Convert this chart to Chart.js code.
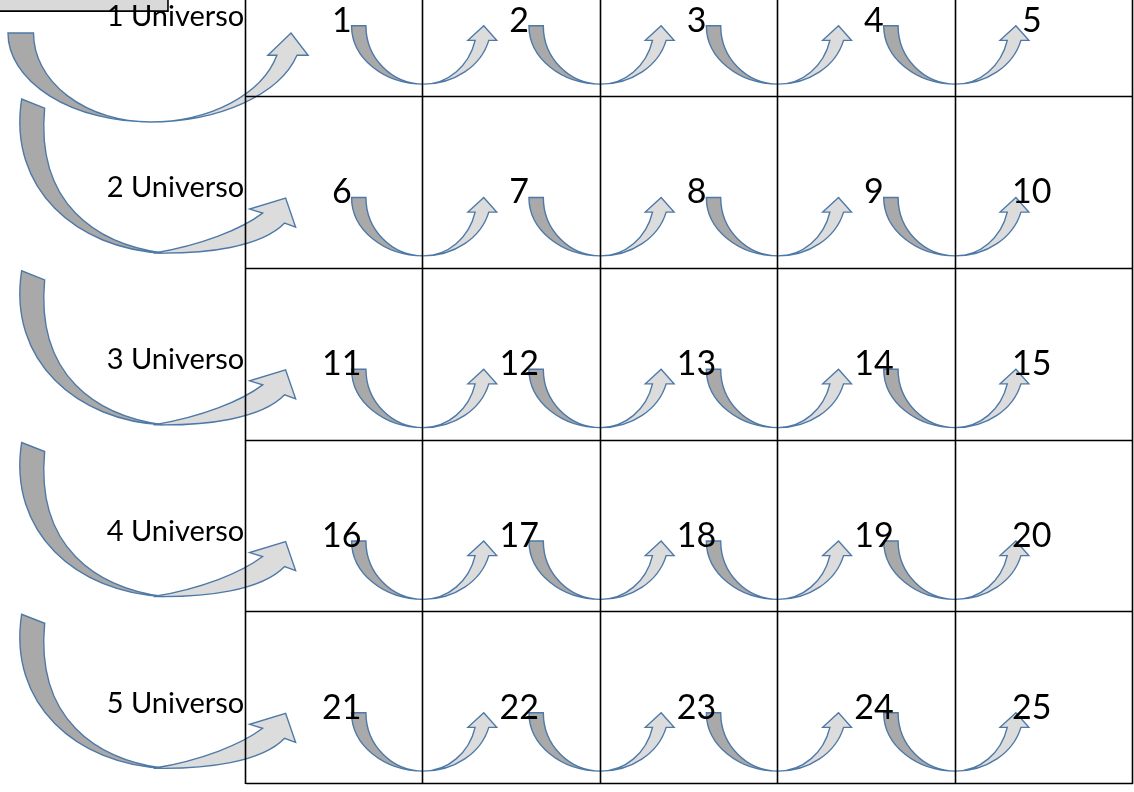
<!DOCTYPE html>
<html>
<head>
<meta charset="utf-8">
<script src="https://cdn.jsdelivr.net/npm/chart.js@4.4.1/dist/chart.umd.min.js"></script>
<style>
html,body{margin:0;padding:0;background:#ffffff;}
#wrap{width:1134px;height:792px;position:relative;}
</style>
</head>
<body>
<div id="wrap"><canvas id="c"></canvas></div>
<script>
// ---- data ----
const universeLabels = ['1 Universo', '2 Universo', '3 Universo', '4 Universo', '5 Universo'];
const cellNumbers = [1, 2, 3, 4, 5, 6, 7, 8, 9, 10, 11, 12, 13, 14, 15, 16, 17, 18, 19, 20, 21, 22, 23, 24, 25];
const universeEntries = [1, 6, 11, 16, 21];
const stepLinks = [
  [1, 2], [2, 3], [3, 4], [4, 5],
  [6, 7], [7, 8], [8, 9], [9, 10],
  [11, 12], [12, 13], [13, 14], [14, 15],
  [16, 17], [17, 18], [18, 19], [19, 20],
  [21, 22], [22, 23], [23, 24], [24, 25]
];
const columnCount = 5;
const rowCount = 5;

// ---- helpers ----
function cellOf(n) {
  const i = cellNumbers.indexOf(n);
  return { col: i % columnCount, row: Math.floor(i / columnCount) };
}

const COLORS = { dark: '#a9a9a9', light: '#dcdcdc', edge: '#4e79a7', grid: '#000000' };

const SMALL = { bw: 0.10, xm: 0.50, cornerL: 0.31, cornerR: 0.51, tip: 0.42, shaftIn: 0.36, shaftOut: 0.455, base: 0.25 };
const BIG = { bw: 0.085, xm: 0.473, cornerL: 0.393, cornerR: 0.527, tip: 0.47, shaftIn: 0.423, shaftOut: 0.49, base: 0.25 };

function styleShape(ctx, fill) {
  ctx.fillStyle = fill;
  ctx.fill();
  ctx.stroke();
}

function curvedArrow(ctx, ax, ay, W, H, p) {
  ctx.save();
  ctx.translate(ax, ay);
  ctx.lineWidth = 1.4;
  ctx.strokeStyle = COLORS.edge;
  ctx.lineJoin = 'miter';
  const xm = p.xm * W;
  const bw = p.bw * W;
  ctx.beginPath();
  ctx.moveTo(0, 0);
  ctx.ellipse(xm, 0, xm, H, 0, Math.PI, Math.PI / 2, true);
  ctx.ellipse(xm, 0, xm - bw, H, 0, Math.PI / 2, Math.PI, false);
  ctx.closePath();
  styleShape(ctx, COLORS.dark);
  const by = p.base * H;
  const th = Math.asin(p.base);
  const rOut = (p.shaftOut * W) / Math.cos(th);
  const rIn = (p.shaftIn * W) / Math.cos(th);
  ctx.beginPath();
  ctx.moveTo(xm, H);
  ctx.ellipse(xm, 0, rOut, H, 0, Math.PI / 2, th, true);
  ctx.lineTo(xm + p.cornerR * W, by);
  ctx.lineTo(xm + p.tip * W, 0);
  ctx.lineTo(xm + p.cornerL * W, by);
  ctx.lineTo(xm + rIn * Math.cos(th), by);
  ctx.ellipse(xm, 0, rIn, H, 0, th, Math.PI / 2, false);
  ctx.closePath();
  styleShape(ctx, COLORS.light);
  ctx.restore();
}

// tilted swoop arrow (template in local units, scaled by s)
function swoopArrow(ctx, ax, ay, s) {
  ctx.save();
  ctx.translate(ax, ay);
  ctx.scale(s, s);
  ctx.lineWidth = 1.4 / s;
  ctx.strokeStyle = COLORS.edge;
  ctx.lineJoin = 'miter';
  // back band
  ctx.beginPath();
  ctx.moveTo(0, 0);
  ctx.bezierCurveTo(-14, 90, 55, 150, 142, 154);
  ctx.bezierCurveTo(75, 145, 14, 105, 23, 9);
  ctx.closePath();
  styleShape(ctx, COLORS.dark);
  // front band with head
  ctx.beginPath();
  ctx.moveTo(132, 154);
  ctx.bezierCurveTo(185, 155, 240, 148, 263, 124);
  ctx.lineTo(274, 128);
  ctx.lineTo(264, 99);
  ctx.lineTo(228, 110);
  ctx.lineTo(241, 114);
  ctx.bezierCurveTo(220, 130, 180, 146, 132, 154);
  ctx.closePath();
  styleShape(ctx, COLORS.light);
  ctx.restore();
}

const diagramPlugin = {
  id: 'diagram',
  afterDatasetsDraw(chart) {
    const ctx = chart.ctx;
    const xs = chart.scales.x, ys = chart.scales.y;
    const X = v => xs.getPixelForValue(v);
    const Y = v => ys.getPixelForValue(v);
    const unit = X(1) - X(0);

    // big entry arrows (label -> first number of each row)
    universeEntries.forEach(n => {
      const { row } = cellOf(n);
      if (row === 0) {
        curvedArrow(ctx, X(-1.342), Y(row + 0.627), X(0.35) - X(-1.342), Y(row + 1.145) - Y(row + 0.627), BIG);
      } else {
        swoopArrow(ctx, X(-1.265), Y(row + 0.012), unit / 177.4);
      }
    });

    // small step arrows between consecutive numbers
    stepLinks.forEach(([a, b]) => {
      const ca = cellOf(a);
      const boundary = ca.col + 1;
      const x0 = X(boundary - 0.405), x1 = X(boundary + 0.405);
      const y0 = Y(ca.row + 0.585), y1 = Y(ca.row + 0.925);
      curvedArrow(ctx, x0, y0, x1 - x0, y1 - y0, SMALL);
    });

    // grid of cells
    ctx.save();
    ctx.strokeStyle = COLORS.grid;
    ctx.lineWidth = 1.6;
    ctx.beginPath();
    for (let c = 0; c <= columnCount; c++) {
      const px = Math.round(X(c)) - 0.5;
      ctx.moveTo(px, chart.chartArea.top);
      ctx.lineTo(px, Y(rowCount));
    }
    for (let r = 1; r <= rowCount; r++) {
      const py = Math.round(Y(r)) - 0.5;
      ctx.moveTo(X(0), py);
      ctx.lineTo(X(columnCount), py);
    }
    ctx.stroke();
    // grey box top-left
    ctx.fillStyle = '#d9d9d9';
    ctx.beginPath();
    ctx.rect(X(-1.45), Y(0.38), X(-0.44) - X(-1.45), Y(0.5) - Y(0.38));
    ctx.fill();
    ctx.stroke();
    ctx.restore();

    // universe labels
    ctx.save();
    ctx.fillStyle = '#000000';
    ctx.font = '29px Lato';
    ctx.textAlign = 'right';
    ctx.textBaseline = 'middle';
    universeLabels.forEach((lab, r) => {
      ctx.fillText(lab, X(-0.01), Y(r + 0.53));
    });
    // cell numbers
    ctx.font = '34px Lato';
    ctx.textAlign = 'center';
    cellNumbers.forEach(n => {
      const { col, row } = cellOf(n);
      const dx = col === columnCount - 1 ? 0.43 : 0.54;
      ctx.fillText(String(n), X(col + dx), Y(row + 0.555));
    });
    ctx.restore();
  }
};

new Chart(document.getElementById('c'), {
  type: 'scatter',
  data: {
    datasets: [{
      label: 'cells',
      data: cellNumbers.map(n => { const c = cellOf(n); return { x: c.col + 0.5, y: c.row + 0.5 }; }),
      pointRadius: 0,
      pointHoverRadius: 0
    }]
  },
  options: {
    responsive: true,
    maintainAspectRatio: false,
    animation: false,
    layout: { padding: { left: 0, right: 0, top: 0, bottom: 8 } },
    plugins: { legend: { display: false }, tooltip: { enabled: false } },
    events: [],
    scales: {
      x: { type: 'linear', display: false, min: -1.387, max: 5.006 },
      y: { type: 'linear', display: false, reverse: true, min: 0.435, max: 5 }
    }
  },
  plugins: [diagramPlugin]
});
</script>
</body>
</html>
